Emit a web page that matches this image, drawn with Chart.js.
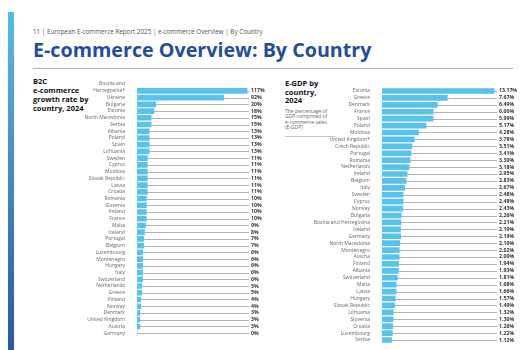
<!DOCTYPE html>
<html>
<head>
<meta charset="utf-8">
<script src="https://cdn.jsdelivr.net/npm/chart.js@4"></script>
<style>
  html, body { margin: 0; padding: 0; background: #fff; overflow: hidden; }
  body { width: 525px; height: 350px; position: relative; font-family: "Open Sans", sans-serif; }
  .strip { position: absolute; left: 8px; top: 12px; width: 6px; height: 338px;
           background: linear-gradient(#58b9ec, #2b57a6); }
  .crumb { position: absolute; left: 33px; top: 27px; font-size: 6.3px; color: #555; white-space: nowrap; }
  .title { position: absolute; left: 33px; top: 36px; font-size: 19.7px; font-weight: 700; color: #1f4e9c;
           line-height: 27px; white-space: nowrap; }
  .rule { position: absolute; left: 33px; top: 68px; width: 480px; height: 1px; background: #b0b0b0; }
  .panel-head { position: absolute; font-size: 7.5px; font-weight: 700; color: #111; line-height: 9px; }
  .panel-note { position: absolute; font-size: 5px; color: #666; line-height: 5.3px; }
  .panel-line { position: absolute; height: 1px; background: #c8c8c8; }
  .box { position: absolute; }
</style>
</head>
<body>
<div class="strip"></div>
<div class="crumb">11 | European E-commerce Report 2025 | e-commerce Overview | By Country</div>
<div class="title">E-commerce Overview: By Country</div>
<div class="rule"></div>

<div class="panel-head" style="left:33px; top:77px;">B2C<br>e-commerce<br>growth rate by<br>country, 2024</div>

<div class="panel-head" style="left:285px; top:79px; line-height:8.5px;">E-GDP by<br>country,<br>2024</div>
<div class="panel-note" style="left:285px; top:109px;">The percentage of<br>GDP comprised of<br>e-commerce sales<br>(E-GDP)</div>
<div class="panel-line" style="left:285px; top:136px; width:51px;"></div>

<div class="box" style="left:60px; top:80px;"><canvas id="b2c" width="210" height="271"></canvas></div>
<div class="box" style="left:300px; top:80px;"><canvas id="egdp" width="225" height="271"></canvas></div>

<script>
// B2C e-commerce growth rate, 2024 (%)
const b2cCountries = ['Bosnia and Herzegovina*', 'Ukraine', 'Bulgaria', 'Estonia', 'North Macedonia', 'Serbia',
  'Albania', 'Poland', 'Spain', 'Lithuania', 'Sweden', 'Cyprus', 'Moldova', 'Slovak Republic', 'Latvia',
  'Croatia', 'Romania', 'Slovenia', 'Ireland', 'France', 'Malta', 'Iceland', 'Portugal', 'Belgium',
  'Luxembourg', 'Montenegro', 'Hungary', 'Italy', 'Switzerland', 'Netherlands', 'Greece', 'Finland',
  'Norway', 'Denmark', 'United Kingdom', 'Austria', 'Germany'];
const b2cGrowth = [117, 92, 20, 18, 15, 15, 13, 13, 13, 13, 11, 11, 11, 11, 11, 11, 10, 10, 10, 10, 9, 8,
  7, 7, 6, 6, 6, 6, 6, 5, 5, 4, 4, 3, 3, 3, 0];

// E-GDP share, 2024 (%)
const egdpCountries = ['Estonia', 'Greece', 'Denmark', 'France', 'Spain', 'Poland', 'Moldova',
  'United Kingdom*', 'Czech Republic', 'Portugal', 'Romania', 'Netherlands', 'Ireland', 'Belgium', 'Italy',
  'Sweden', 'Cyprus', 'Norway', 'Bulgaria', 'Bosnia and Herzegovina', 'Iceland', 'Germany',
  'North Macedonia', 'Montenegro', 'Austria', 'Finland', 'Albania', 'Switzerland', 'Malta', 'Latvia',
  'Hungary', 'Slovak Republic', 'Lithuania', 'Slovenia', 'Croatia', 'Luxembourg', 'Serbia'];
const egdpShare = [13.17, 7.67, 6.49, 6.00, 5.99, 5.17, 4.28, 3.78, 3.51, 3.41, 3.30, 3.18, 2.95, 2.83,
  2.67, 2.48, 2.48, 2.43, 2.26, 2.21, 2.19, 2.19, 2.10, 2.02, 2.00, 1.94, 1.93, 1.81, 1.68, 1.66, 1.57,
  1.49, 1.32, 1.30, 1.26, 1.22, 1.12];

// thin grey guide behind every bar, full width of the plot
const trackPlugin = {
  id: 'track',
  beforeDatasetsDraw(chart) {
    let ctx = chart.ctx;
    let area = chart.chartArea;
    let y = chart.scales.y;
    ctx.save();
    ctx.strokeStyle = '#b3b3b3';
    ctx.lineWidth = 1;
    chart.data.labels.forEach((lab, i) => {
      let py = Math.round(y.getPixelForValue(i)) + 0.5;
      ctx.beginPath();
      ctx.moveTo(area.left, py);
      ctx.lineTo(area.right, py);
      ctx.stroke();
    });
    ctx.restore();
  }
};

// value text at the end of each row
const valuePlugin = {
  id: 'values',
  afterDatasetsDraw(chart, args, opts) {
    let ctx = chart.ctx;
    let y = chart.scales.y;
    ctx.save();
    ctx.font = 'bold 5.2px "Open Sans"';
    ctx.fillStyle = '#333';
    ctx.textBaseline = 'middle';
    chart.data.datasets[0].data.forEach((v, i) => {
      ctx.fillText(opts.format(v), chart.chartArea.right + opts.gap, y.getPixelForValue(i));
    });
    ctx.restore();
  }
};

function drawBarChart(id, labels, data, max, axisWidth, padRight, format) {
  let ctx = document.getElementById(id).getContext('2d');
  return new Chart(ctx, {
    type: 'bar',
    data: {
      labels: labels,
      datasets: [{
        data: data,
        backgroundColor: '#58c2ef',
        barThickness: 5,
      }]
    },
    options: {
      indexAxis: 'y',
      responsive: false,
      animation: false,
      layout: { padding: { right: padRight } },
      plugins: {
        legend: { display: false },
        tooltip: { enabled: false },
        values: { format: format, gap: 2 }
      },
      scales: {
        x: { display: false, min: 0, max: max },
        y: {
          grid: { display: false },
          border: { display: false },
          afterFit: (scale) => { scale.width = axisWidth; },
          ticks: {
            autoSkip: false,
            padding: 4,
            color: '#666',
            font: { family: 'Open Sans', size: 5, lineHeight: 1.4 },
            callback: function(value) {
              let lab = this.getLabelForValue(value);
              // long name is split over two lines, sitting above the row
              if (lab === 'Bosnia and Herzegovina*') return ['Bosnia and', 'Herzegovina*', ''];
              return lab;
            }
          }
        }
      }
    },
    plugins: [trackPlugin, valuePlugin]
  });
}

drawBarChart('b2c', b2cCountries, b2cGrowth, 119, 77, 21, v => v + '%');
drawBarChart('egdp', egdpCountries, egdpShare, 13.5, 82, 28, v => v.toFixed(2) + '%');
</script>
</body>
</html>
